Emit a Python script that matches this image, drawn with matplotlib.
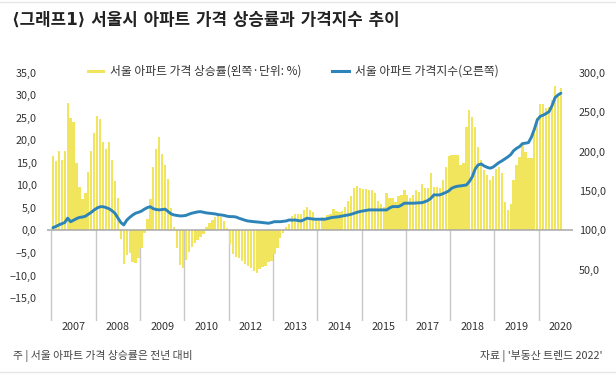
import matplotlib
matplotlib.use("Agg")
import matplotlib.pyplot as plt
import numpy as np

plt.rcParams['font.family'] = ['Noto Sans CJK KR', 'DejaVu Sans']

W, H = 616, 377

# Year-on-year change of Seoul apartment prices (%), monthly from Jan 2007
rate = [
    16.4, 15.3, 17.5, 15.6, 17.5, 28.2, 24.9, 24.1, 14.9, 9.7,
    7.0, 8.2, 13.0, 17.5, 21.5, 25.4, 24.7, 19.5, 18.0, 19.5,
    15.5, 11.0, 7.3, -2.0, -7.5, -5.5, -5.0, -7.0, -7.3, -6.0,
    -4.0, -0.5, 2.5, 7.0, 14.0, 18.0, 20.8, 17.0, 14.5, 11.5,
    5.0, 0.8, -4.0, -7.6, -8.4, -6.5, -4.7, -3.6, -2.8, -2.1,
    -1.4, -0.8, 0.8, 1.6, 2.3, 3.0, 3.4, 3.0, 2.0, 0.6,
    -3.0, -5.3, -5.8, -6.0, -6.8, -7.5, -7.9, -8.3, -9.0, -9.4,
    -8.6, -8.2, -7.9, -7.0, -6.8, -5.3, -3.8, -1.6, -0.5, 0.8,
    1.4, 3.2, 3.6, 3.7, 3.7, 4.6, 5.3, 4.6, 4.0, 2.6,
    2.2, 3.0, 2.6, 3.4, 3.7, 4.8, 4.4, 4.0, 4.4, 5.2,
    6.6, 7.6, 9.3, 9.8, 9.3, 9.1, 9.1, 9.0, 9.0, 8.2,
    6.6, 5.9, 5.2, 8.2, 7.1, 7.1, 6.4, 7.6, 7.8, 9.0,
    7.8, 7.1, 7.8, 9.0, 8.6, 10.4, 9.3, 9.3, 12.7, 9.7,
    9.7, 9.3, 11.2, 14.1, 16.5, 16.7, 16.7, 16.7, 14.5, 15.0,
    23.0, 26.7, 25.2, 23.0, 18.5, 15.6, 13.3, 12.2, 11.2, 12.0,
    13.7, 14.1, 12.7, 6.4, 4.5, 5.9, 11.2, 14.5, 16.3, 18.9,
    17.4, 16.0, 16.0, 21.5, 25.0, 28.0, 28.0, 27.1, 27.4, 28.9,
    31.9, 30.0, 31.5,
]

# Seoul apartment price index, monthly from Jan 2007
index = [
    103.5, 105, 107, 108.5, 110, 115.5, 111, 113, 115, 116.5,
    117, 118, 120.5, 123, 126, 128.5, 130, 130, 129, 127.5,
    125, 121.8, 116, 110, 107, 113, 116.5, 119.5, 121.8, 123,
    124.5, 127, 129, 130, 127.5, 126.5, 126, 126.5, 127, 124,
    121, 119.6, 119, 118.4, 118.5, 119, 120.5, 121.8, 122.6, 123.5,
    123.8, 123, 122.2, 121.8, 121.3, 120.9, 120, 119.6, 119, 118,
    117.5, 117.5, 117, 115.5, 114.2, 113, 112, 111.5, 111.1, 110.8,
    110.4, 110, 109.5, 109.1, 110, 111.1, 111.1, 111.1, 111.5, 112,
    113.3, 113, 113.3, 112.5, 112, 113.5, 115.5, 115, 114.5, 114.2,
    114.2, 114.2, 114.2, 115, 116, 116.7, 117, 117.5, 118.3, 119,
    119.6, 120.5, 121.8, 123, 124, 124.7, 125.5, 126, 126, 126,
    126, 126, 126, 126, 128.5, 130.2, 130.2, 130.2, 132, 134.5,
    134.5, 134.5, 134.5, 134.8, 135, 135.2, 136.5, 138, 140.8, 145,
    145, 145, 146.5, 148, 150, 153.4, 155, 156, 156.4, 157,
    157.6, 161.9, 168, 178, 183, 184.2, 181.7, 180, 178.8, 180.1,
    183, 185.9, 188, 190.5, 193, 196, 201, 204, 206.2, 210,
    210.5, 211.2, 218, 228, 240, 244.5, 246, 248, 250.5, 258,
    268, 271.5, 273.8,
]

year_labels = ['2007', '2008', '2009', '2010', '2012', '2013',
               '2014', '2015', '2017', '2018', '2019', '2020']
months_per_label = 15

left_ticks = [35, 30, 25, 20, 15, 10, 5, 0, -5, -10, -15]
right_ticks = [300, 250, 200, 150, 100, 50]

bar_color = '#F1E55E'
line_color = '#2D84B8'
text_color = '#333333'

fig = plt.figure(figsize=(W / 100, H / 100), dpi=100)
fig.patch.set_facecolor('white')

# axes placement in pixels
ax_left, ax_right = 47, 573
ax_top, ax_bottom = 72.5, 320.7
ax = fig.add_axes([ax_left / W, 1 - ax_bottom / H,
                   (ax_right - ax_left) / W, (ax_bottom - ax_top) / H])

n = len(rate)
x = np.arange(n)
ax.bar(x, rate, width=0.78, color=bar_color, zorder=2, linewidth=0)

lo, hi = -20, 35
ax.set_ylim(lo, hi)
ax.set_xlim(-2.0, 176.1)

# separators between year labels
sep = [months_per_label * k - 0.5 for k in range(len(year_labels))]
ax.vlines(sep, lo, 0, color='#C8C8C8', lw=1, zorder=1)
ax.axhline(0, color='#A8A8A8', lw=1.1, zorder=3)

for s in ax.spines.values():
    s.set_visible(False)

ax.set_yticks(left_ticks)
ax.set_yticklabels([("−" if t < 0 else "") + f"{abs(t):.1f}".replace('.', ',')
                    for t in left_ticks], fontsize=7.8, color=text_color)
ax.tick_params(axis='y', length=0, pad=7.5)

lab_pos = [months_per_label * k + 7 for k in range(len(year_labels))]
ax.set_xticks(lab_pos)
ax.set_xticklabels(year_labels, fontsize=7.8, color=text_color)
ax.tick_params(axis='x', length=0, pad=1)

# right axis, 100 aligned with 0 and 300 aligned with 35
ax2 = ax.twinx()
scale = 200 / 35
ax2.set_ylim(100 + lo * scale, 100 + hi * scale)
ax2.plot(x, index, color=line_color, lw=2.1, zorder=4, solid_capstyle='round')
for s in ax2.spines.values():
    s.set_visible(False)
ax2.set_yticks(right_ticks)
ax2.set_yticklabels([f"{t:.1f}".replace('.', ',') for t in right_ticks],
                    fontsize=7.8, color=text_color)
ax2.tick_params(axis='y', length=0, pad=4)

# title
fig.text(12 / W, 1 - 20 / H, "⟨그래프1⟩ 서울시 아파트 가격 상승률과 가격지수 추이",
         fontsize=12.1, fontweight='bold', color='#222222', va='center', ha='left',
         family=['DejaVu Sans', 'Noto Sans CJK KR'])

# legend
ly = 1 - 71 / H
fig.add_artist(plt.Line2D([88 / W, 103 / W], [ly, ly], color=bar_color, lw=2.2))
fig.text(110 / W, ly, "서울 아파트 가격 상승률(왼쪽·단위: %)", fontsize=8.5,
         color=text_color, va='center', ha='left')
fig.add_artist(plt.Line2D([332 / W, 349 / W], [ly, ly], color=line_color, lw=2.2))
fig.text(355 / W, ly, "서울 아파트 가격지수(오른쪽)", fontsize=8.5,
         color=text_color, va='center', ha='left')

# footer
fy = 1 - 356 / H
fig.text(13 / W, fy, "주 | 서울 아파트 가격 상승률은 전년 대비", fontsize=7.8,
         color='#444444', va='center', ha='left')
fig.text(603 / W, fy, "자료 | '부동산 트렌드 2022'", fontsize=7.8,
         color='#444444', va='center', ha='right')

# faint frame lines
fig.add_artist(plt.Line2D([0, 1], [1 - 2 / H, 1 - 2 / H], color='#E6E6E6', lw=1))
fig.add_artist(plt.Line2D([0, 1], [1 - 372 / H, 1 - 372 / H], color='#E6E6E6', lw=1))

fig.savefig("out.png", dpi=100, facecolor='white')
